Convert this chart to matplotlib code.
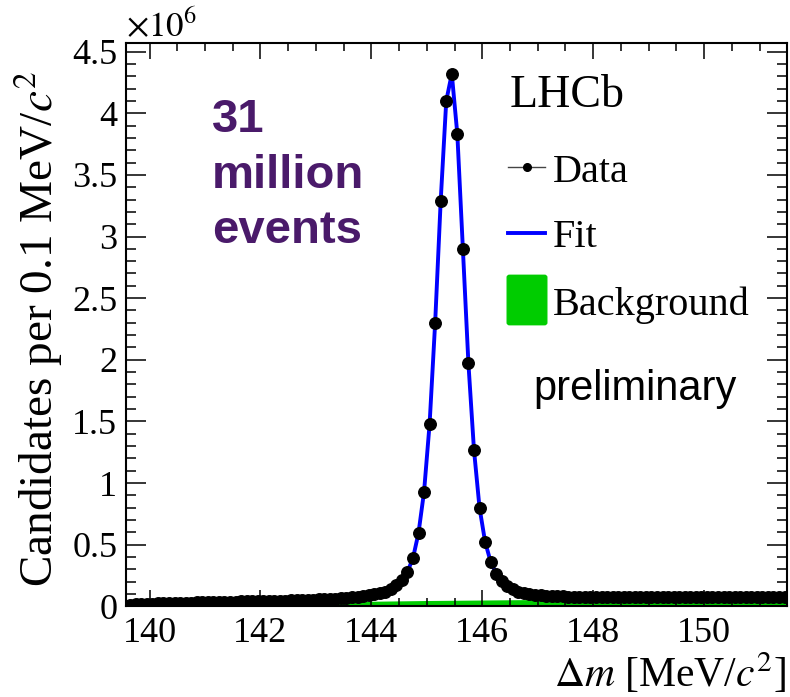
"""Delta-m distribution of D*+ candidates with fit and background component."""

import matplotlib
matplotlib.use("Agg")
import matplotlib.pyplot as plt
import numpy as np
from matplotlib.lines import Line2D
from matplotlib.patches import FancyBboxPatch
from matplotlib.ticker import FuncFormatter, MultipleLocator

# candidates per 0.1 MeV bin, in units of 1e6, first bin centred at 139.65 MeV
candidates_1e6 = [
    0.014, 0.016, 0.018, 0.020, 0.022, 0.024, 0.025, 0.026, 0.027, 0.028,
    0.029, 0.030, 0.031, 0.032, 0.033, 0.034, 0.035, 0.036, 0.037, 0.038,
    0.039, 0.040, 0.041, 0.042, 0.043, 0.044, 0.045, 0.046, 0.047, 0.048,
    0.049, 0.051, 0.052, 0.054, 0.056, 0.058, 0.060, 0.063, 0.066, 0.069,
    0.073, 0.077, 0.082, 0.088, 0.096, 0.106, 0.120, 0.140, 0.170, 0.215,
    0.280, 0.390, 0.595, 0.930, 1.480, 2.300, 3.290, 4.100, 4.320, 3.830,
    2.900, 1.970, 1.270, 0.800, 0.525, 0.362, 0.265, 0.205, 0.165, 0.138,
    0.120, 0.107, 0.098, 0.092, 0.088, 0.085, 0.083, 0.081, 0.080, 0.079,
    0.078, 0.077, 0.077, 0.076, 0.076, 0.076, 0.075, 0.075, 0.075, 0.075,
    0.075, 0.074, 0.074, 0.074, 0.074, 0.074, 0.074, 0.073, 0.073, 0.073,
    0.073, 0.073, 0.073, 0.073, 0.073, 0.072, 0.072, 0.072, 0.072, 0.072,
    0.072, 0.072, 0.072, 0.072, 0.072, 0.072, 0.072, 0.072, 0.072,
]
first_bin_centre = 139.65
bin_width = 0.1

# combinatorial background component (1e6 per bin)
background_dm = [139.57, 140.0, 140.5, 141.0, 141.5, 142.0, 142.5, 143.0, 143.5, 144.0,
                 144.5, 145.0, 145.5, 146.0, 146.5, 147.0, 148.0, 149.0, 150.0, 151.0, 151.5]
background_1e6 = [0.0, 0.008, 0.013, 0.018, 0.022, 0.026, 0.030, 0.034, 0.038, 0.041,
                  0.044, 0.047, 0.049, 0.051, 0.053, 0.055, 0.058, 0.060, 0.062, 0.063, 0.064]

x_ticks = [140, 142, 144, 146, 148, 150]

W, H = 790, 697


def fig_xy(x, y):
    return x / W, 1 - y / H


plt.rcParams["font.family"] = ["Liberation Serif", "DejaVu Serif"]
plt.rcParams["mathtext.fontset"] = "stix"

fig = plt.figure(figsize=(W / 100, H / 100), dpi=100)
ax = fig.add_axes([125.7 / W, 1 - 606.3 / H, (787.3 - 125.7) / W, (606.3 - 43) / H])

bin_centres = first_bin_centre + bin_width * np.arange(len(candidates_1e6))
ax.fill_between(background_dm, background_1e6, color="#00cc00", linewidth=0, zorder=1)
ax.plot(bin_centres, candidates_1e6, color="#0000ff", linewidth=2.8, zorder=3)
ax.plot(bin_centres, candidates_1e6, "o", color="black", markersize=8.3, zorder=4)

ax.set_xlim(139.57, 151.5)
ax.set_ylim(0, 4.57)
ax.set_xticks(x_ticks)
ax.xaxis.set_minor_locator(MultipleLocator(0.5))
ax.yaxis.set_major_locator(MultipleLocator(0.5))
ax.yaxis.set_minor_locator(MultipleLocator(0.1))
ax.yaxis.set_major_formatter(FuncFormatter(lambda v, _: f"{v:g}"))

ax.tick_params(which="both", direction="in", top=True, right=True, width=1.1, labelsize=26)
ax.tick_params(axis="x", which="major", length=11.5, pad=8)
ax.tick_params(axis="x", which="minor", length=5.8)
ax.tick_params(axis="y", which="major", length=14.4, pad=6)
ax.tick_params(axis="y", which="minor", length=7.2)
for spine in ax.spines.values():
    spine.set_linewidth(1.5)

# axis titles, ROOT style
fig.text(*fig_xy(38, 70), "Candidates per 0.1 MeV/$c^{2}$", rotation=90,
         ha="center", va="top", fontsize=34)
fig.text(*fig_xy(786, 687), r"$\Delta$$m$ [MeV/$c^{2}$]", ha="right", va="baseline", fontsize=30)
fig.text(*fig_xy(126, 37), r"$\times10^{6}$", ha="left", va="baseline", fontsize=25)

# annotations
purple = "#4a1a6a"
for text, base in [("31", 132), ("million", 188), ("events", 243)]:
    fig.text(*fig_xy(212, base), text, ha="left", va="baseline", fontsize=34,
             fontweight="bold", color=purple, family="Liberation Sans")
fig.text(*fig_xy(533, 400), "preliminary", ha="left", va="baseline", fontsize=30,
         family="Liberation Sans")
fig.text(*fig_xy(510, 107), "LHCb", ha="left", va="baseline", fontsize=33)

# legend
fig.add_artist(Line2D([508 / W, 545 / W], [1 - 167 / H] * 2, color="#444444", linewidth=1.0))
fig.add_artist(Line2D([527 / W], [1 - 167 / H], marker="o", color="black", markersize=5.5))
fig.text(*fig_xy(553, 182), "Data", ha="left", va="baseline", fontsize=29)
fig.add_artist(Line2D([508 / W, 545 / W], [1 - 233 / H] * 2, color="#0000ff", linewidth=2.8))
fig.text(*fig_xy(553, 247), "Fit", ha="left", va="baseline", fontsize=29)
fig.add_artist(FancyBboxPatch((508 / W, 1 - 324 / H), 38 / W, 48 / H,
                              boxstyle="round,pad=0.001,rounding_size=0.003",
                              color="#00cc00", transform=fig.transFigure))
fig.text(*fig_xy(553, 315), "Background", ha="left", va="baseline", fontsize=29)

fig.savefig("out.png", dpi=100)
